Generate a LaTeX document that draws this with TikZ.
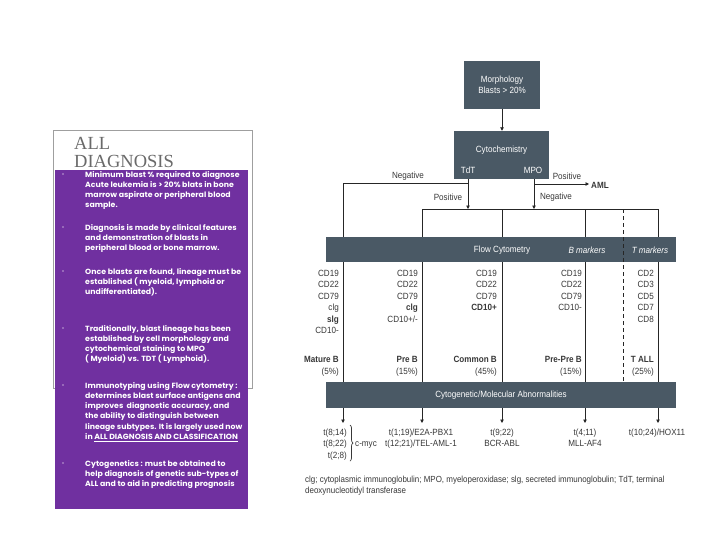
\documentclass[tikz,border=0pt]{standalone}
\usepackage{fontspec}
\setmainfont{Liberation Sans}
\newfontfamily\dfont[FakeStretch=0.9]{Liberation Sans}
\newfontfamily\pfont[FakeStretch=1.04]{Poppins}
\newfontfamily\tfont{Liberation Serif}
\usetikzlibrary{arrows.meta,decorations.pathreplacing}
\definecolor{slate}{HTML}{4A5965}
\definecolor{purp}{HTML}{7030A0}
\definecolor{dtext}{HTML}{383838}
\definecolor{ttl}{HTML}{6A6A6A}
\tikzset{
  bl/.style={anchor=base west, inner sep=0pt, text=white, font=\pfont\bfseries\fontsize{7.5}{9}\selectfont},
  dotb/.style={fill=purp!45!white},
  box/.style={fill=slate, text=white, inner sep=0pt, align=center, font=\dfont\fontsize{9}{11.5}\selectfont},
  lbl/.style={inner sep=0pt, text=dtext, font=\dfont\fontsize{9}{11}\selectfont},
  wl/.style={inner sep=0pt, text=white, font=\dfont\fontsize{9}{11}\selectfont},
  ct/.style={anchor=base east, inner sep=0pt, text=dtext, font=\dfont\fontsize{9}{11}\selectfont},
  cc/.style={anchor=base, inner sep=0pt, text=dtext, font=\dfont\fontsize{9}{11}\selectfont},
  conn/.style={draw=black!85, line width=1pt},
  arr/.style={conn, -{Triangle[length=3.5pt,width=3.5pt]}},
}
\begin{document}
\begin{tikzpicture}[x=1pt,y=-1pt]
\useasboundingbox[fill=white] (0,0) rectangle (728,546);

% ---------- left panel ----------
\draw[draw=gray!75, line width=0.8pt, fill=white] (53,130) rectangle (252,388);
\node[anchor=base west, inner sep=0pt, align=left, text=ttl, font=\tfont\fontsize{18.5}{18}\selectfont] (ttl) at (74,167) {ALL\\DIAGNOSIS};
\fill[purp] (55,170) rectangle (248,509);

\foreach \y in {174,227,271,328,385,463} \fill[dotb] (63,\y) circle (0.8);

\node[bl] (a1) at (85,177) {Minimum blast \% required to diagnose};
\node[bl] (a2) at (85,187.3) {Acute leukemia is > 20\% blats in bone};
\node[bl] (a3) at (85,197.6) {marrow aspirate or peripheral blood};
\node[bl] (a4) at (85,207.9) {sample.};

\node[bl] (b1) at (85,230) {Diagnosis is made by clinical features};
\node[bl] (b2) at (85,240.3) {and demonstration of blasts in};
\node[bl] (b3) at (85,250.6) {peripheral blood or bone marrow.};

\node[bl] (c1) at (85,274) {Once blasts are found, lineage must be};
\node[bl] (c2) at (85,284.3) {established ( myeloid, lymphoid or};
\node[bl] (c3) at (85,294.6) {undifferentiated).};

\node[bl] (d1) at (85,331) {Traditionally, blast lineage has been};
\node[bl] (d2) at (85,341.3) {established by cell morphology and};
\node[bl] (d3) at (85,351.6) {cytochemical staining to MPO};
\node[bl] (d4) at (85,361.9) {( Myeloid) vs. TDT ( Lymphoid).};

\node[bl] (e1) at (85,388) {Immunotyping using Flow cytometry :};
\node[bl] (e2) at (85,398.3) {determines blast surface antigens and};
\node[bl] (e3) at (85,408.6) {improves \ diagnostic accuracy, and};
\node[bl] (e4) at (85,418.9) {the ability to distinguish between};
\node[bl] (e5) at (85,429.2) {lineage subtypes. It is largely used now};
\node[bl] (e6) at (85,439.5) {in \underline{ALL DIAGNOSIS AND CLASSIFICATION}};

\node[bl] (f1) at (85,466) {Cytogenetics : must be obtained to};
\node[bl] (f2) at (85,476.3) {help diagnosis of genetic sub-types of};
\node[bl] (f3) at (85,486.6) {ALL and to aid in predicting prognosis};

% ---------- flowchart ----------
\node[box, minimum width=76pt, minimum height=48pt] (morph) at (502,85) {Morphology\\Blasts > 20\%};
\node[box, minimum width=95pt, minimum height=48pt] (cyto) at (501.5,155) {};
\node[wl] (cytot) at (501.5,150) {Cytochemistry};
\node[wl] (tdt) at (468,170) {TdT};
\node[wl] (mpo) at (533,170) {MPO};

\draw[arr] (morph.south) -- (morph.south |- cyto.north);

\coordinate (tdtb) at (468,179);
\coordinate (mpob) at (534,179);
\coordinate (negL) at (343,183);
\coordinate (brL) at (422,209);
\coordinate (brR) at (658,209);
\coordinate (aml) at (589,184);

% bracket and columns (under the bars)
\draw[conn] (tdtb |- negL) -- (negL) -- (343,382);
\draw[conn] (422,382) -- (brL) -- (brR) -- (658,382);
\draw[conn] (502,209) -- (502,382);
\draw[conn] (585,209) -- (585,382);

\draw[arr] (tdtb) -- (tdtb |- brL);
\draw[arr] (mpob) -- (mpob |- brL);
\draw[arr] (534,184) -- (aml);
\node[anchor=west, inner sep=0pt, text=dtext, font=\dfont\bfseries\fontsize{9}{11}\selectfont] (amlt) at (591,185) {AML};

\node[lbl] (neg1) at (408,176) {Negative};
\node[lbl] (pos1) at (448,197) {Positive};
\node[lbl] (pos2) at (567,176) {Positive};
\node[lbl] (neg2) at (556,197) {Negative};

% bars
\node[box, minimum width=350pt, minimum height=25pt] (flow) at (501,249.5) {};
\node[wl] (flowt) at (502,250) {Flow Cytometry};
\node[wl, font=\dfont\itshape\fontsize{9}{11}\selectfont] (bm) at (587,250) {B markers};
\node[wl, font=\dfont\itshape\fontsize{9}{11}\selectfont] (tm) at (650,250) {T markers};
\draw[conn, dashed, dash pattern=on 4pt off 3pt] (623,209) -- (623,382);

\node[box, minimum width=350pt, minimum height=26pt] (cytog) at (501,395) {Cytogenetic/Molecular Abnormalities};

% arrows out of cytogenetic bar
\foreach \x [count=\i] in {343,422,502,585,658}
  \draw[arr] (\x,408) -- (\x,423);

% column texts
\foreach \t [count=\i] in {CD19,CD22,CD79,clg,\textbf{slg},CD10-}
  \node[ct] (k1-\i) at (339,{276+11.5*(\i-1)}) {\t};
\foreach \t [count=\i] in {CD19,CD22,CD79,\textbf{clg},CD10+/-}
  \node[ct] (k2-\i) at (418,{276+11.5*(\i-1)}) {\t};
\foreach \t [count=\i] in {CD19,CD22,CD79,\textbf{CD10+}}
  \node[ct] (k3-\i) at (497,{276+11.5*(\i-1)}) {\t};
\foreach \t [count=\i] in {CD19,CD22,CD79,CD10-}
  \node[ct] (k4-\i) at (582,{276+11.5*(\i-1)}) {\t};
\foreach \t [count=\i] in {CD2,CD3,CD5,CD7,CD8}
  \node[ct] (k5-\i) at (654,{276+11.5*(\i-1)}) {\t};

\node[ct] (m1) at (339,362) {\textbf{Mature B}};
\node[ct] (p1) at (339,374) {(5\%)};
\node[ct] (m2) at (418,362) {\textbf{Pre B}};
\node[ct] (p2) at (418,374) {(15\%)};
\node[ct] (m3) at (497,362) {\textbf{Common B}};
\node[ct] (p3) at (497,374) {(45\%)};
\node[ct] (m4) at (582,362) {\textbf{Pre-Pre B}};
\node[ct] (p4) at (582,374) {(15\%)};
\node[ct] (m5) at (654,362) {\textbf{T ALL}};
\node[ct] (p5) at (654,374) {(25\%)};

% translocations
\node[ct] (g1) at (347,435) {t(8;14)};
\node[ct] (g2) at (347,446.5) {t(8;22)};
\node[ct] (g3) at (347,458) {t(2;8)};
\draw[draw=dtext, line width=0.7pt, decorate, decoration={brace, amplitude=3pt}] (350,425) -- (350,461);
\node[cc] (myc) at (366,446.5) {c-myc};
\node[cc] (h1) at (421,435) {t(1;19)/E2A-PBX1};
\node[cc] (h2) at (421,446.5) {t(12;21)/TEL-AML-1};
\node[cc] (i1) at (502,435) {t(9;22)};
\node[cc] (i2) at (502,446.5) {BCR-ABL};
\node[cc] (j1) at (585,435) {t(4;11)};
\node[cc] (j2) at (585,446.5) {MLL-AF4};
\node[cc] (l1) at (657,435) {t(10;24)/HOX11};

\node[anchor=base west, inner sep=0pt, text=dtext, font=\dfont\fontsize{8.85}{11}\selectfont] (fn1) at (305,482) {clg; cytoplasmic immunoglobulin; MPO, myeloperoxidase; slg, secreted immunoglobulin; TdT, terminal};
\node[anchor=base west, inner sep=0pt, text=dtext, font=\dfont\fontsize{8.85}{11}\selectfont] (fn2) at (305,493.5) {deoxynucleotidyl transferase};
\end{tikzpicture}
\end{document}
